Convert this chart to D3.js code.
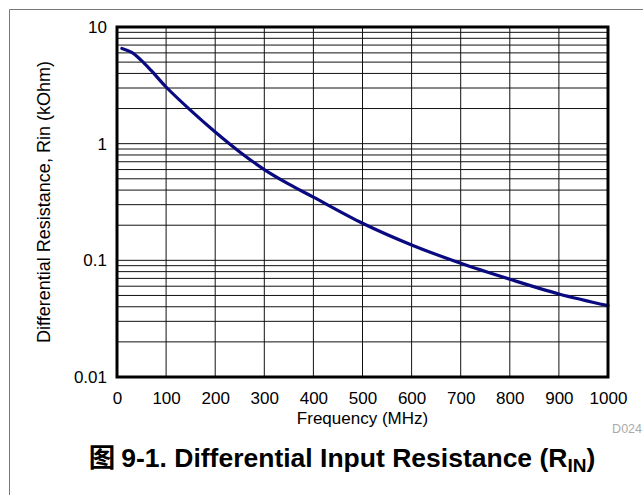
<!DOCTYPE html>
<html><head><meta charset="utf-8">
<script src="https://cdn.jsdelivr.net/npm/d3@7"></script>
<style>body{margin:0;background:#fff}svg{display:block}text{font-family:"Liberation Sans",Arial,sans-serif}</style>
</head><body><svg id="c" width="643" height="495"></svg>
<script>
const freqMHz = [10, 30, 50, 70, 100, 150, 200, 250, 300, 350, 400, 500, 600, 700, 800, 900, 1000];
const rinKOhm = [6.55, 6.05, 5.15, 4.22, 3.06, 1.93, 1.26, 0.85, 0.60, 0.45, 0.348, 0.208, 0.1355, 0.0944, 0.0689, 0.0515, 0.0409];
const xTicks = [0, 100, 200, 300, 400, 500, 600, 700, 800, 900, 1000];
const yTicks = [0.01, 0.1, 1, 10];
const yTickLabels = ["0.01", "0.1", "1", "10"];

const svg = d3.select("#c");
const L = 117, R = 608, T = 27, B = 377;
const x = d3.scaleLinear().domain([0, 1000]).range([L, R]);
const y = d3.scaleLog().domain([0.01, 10]).range([B, T]);

// outer frame
svg.append("path").attr("d", "M9.5,495 V9.5 H643").attr("fill", "none").attr("stroke", "#777").attr("stroke-width", 1);

// horizontal grid (minor + major)
const hVals = [];
for (let e = -2; e < 1; e++) for (let m = 1; m <= 9; m++) hVals.push(m * Math.pow(10, e));
svg.append("g").selectAll("line").data(hVals).join("line")
  .attr("x1", L).attr("x2", R).attr("y1", d => y(d)).attr("y2", d => y(d))
  .attr("stroke", "#111").attr("stroke-width", 1);
// vertical grid
svg.append("g").selectAll("line").data(xTicks).join("line")
  .attr("x1", d => x(d)).attr("x2", d => x(d)).attr("y1", T).attr("y2", B)
  .attr("stroke", "#111").attr("stroke-width", 1);

// curve
const line = d3.line().x(d => x(d[0])).y(d => y(d[1])).curve(d3.curveCatmullRom.alpha(0.5));
svg.append("path").datum(freqMHz.map((f, i) => [f, rinKOhm[i]]))
  .attr("d", line).attr("fill", "none").attr("stroke", "#0a0a80").attr("stroke-width", 3.2)
  .attr("stroke-linecap", "round");

// plot frame
svg.append("rect").attr("x", L).attr("y", T).attr("width", R - L).attr("height", B - T)
  .attr("fill", "none").attr("stroke", "#000").attr("stroke-width", 3);

const FONT = "Liberation Sans, Arial, sans-serif";
// axes labels
const yAxis = d3.axisLeft(y).tickValues(yTicks).tickFormat((d, i) => yTickLabels[i]).tickSize(0).tickPadding(10);
const gy = svg.append("g").attr("transform", `translate(${L},0)`).call(yAxis);
gy.select(".domain").remove();
gy.selectAll("text").attr("font-size", 17).attr("fill", "#000").attr("font-family", FONT);

const xAxis = d3.axisBottom(x).tickValues(xTicks).tickFormat(d3.format("d")).tickSize(0);
const gx = svg.append("g").attr("transform", `translate(0,${B})`).call(xAxis);
gx.select(".domain").remove();
gx.selectAll("text").attr("font-size", 17).attr("fill", "#000").attr("font-family", FONT)
  .attr("y", 26.5).attr("dy", 0);

svg.append("text").attr("x", (L + R) / 2).attr("y", 424).attr("text-anchor", "middle")
  .attr("font-size", 17).text("Frequency (MHz)");
svg.append("text").attr("transform", `translate(50,${(T + B) / 2}) rotate(-90)`).attr("text-anchor", "middle")
  .attr("font-size", 18).text("Differential Resistance, Rin (kOhm)");

svg.append("text").attr("x", 642).attr("y", 433).attr("text-anchor", "end")
  .attr("font-size", 12.5).attr("fill", "#aaa").text("D024");

const cap = svg.append("text").attr("x", 342).attr("y", 467).attr("text-anchor", "middle")
  .attr("font-size", 26.5).attr("font-weight", "bold");
cap.append("tspan").attr("font-family", "Noto Sans CJK SC").text("图 ");
cap.append("tspan").text("9-1. Differential Input Resistance (R");
cap.append("tspan").attr("font-size", 19).attr("dy", 5).text("IN");
cap.append("tspan").attr("dy", -5).text(")");
</script></body></html>
